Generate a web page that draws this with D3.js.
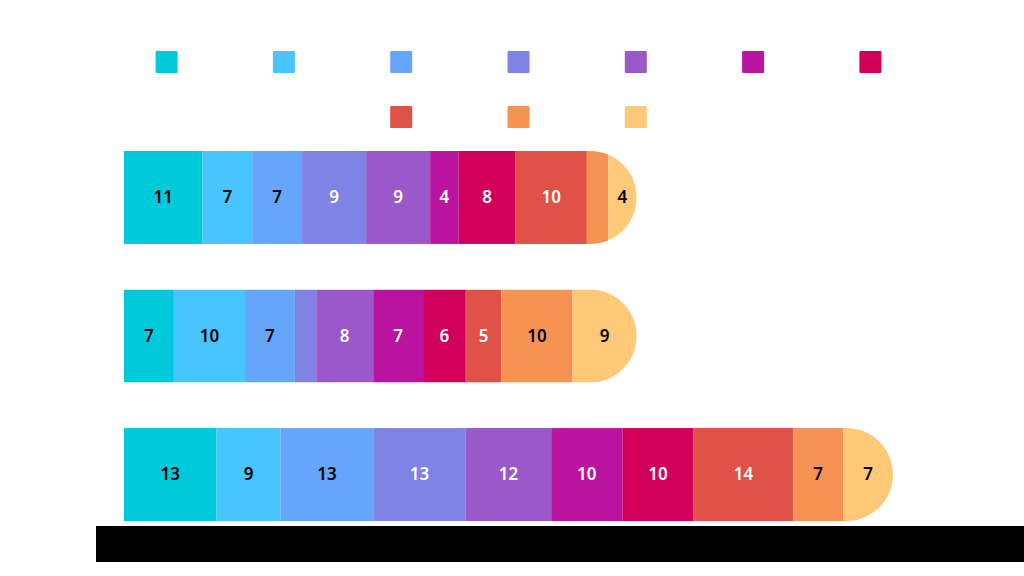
<!DOCTYPE html>
<html><head><meta charset="utf-8">
<script src="https://cdn.jsdelivr.net/npm/d3@7"></script>
<style>body{margin:0;background:#fff}svg{display:block}</style>
</head><body>
<svg id="c" width="1024" height="576"></svg>
<script>
const categories = ["Row 1", "Row 2", "Row 3"];
const seriesNames = ["S1","S2","S3","S4","S5","S6","S7","S8","S9","S10"];
const seriesValues = [
  [11, 7, 13],
  [7, 10, 9],
  [7, 7, 13],
  [9, 3, 13],
  [9, 8, 12],
  [4, 7, 10],
  [8, 6, 10],
  [10, 5, 14],
  [3, 10, 7],
  [4, 9, 7]
];
const colors = ["#00c9dc","#48c4fe","#66a6fa","#8083e6","#9b58c9","#b913a0","#d1005b","#e05148","#f79352","#ffc978"];
const darkText = [true,true,true,false,false,false,false,false,true,true];

const svg = d3.select("#c");
const x = d3.scaleLinear().domain([0, 108]).range([124, 893]);
const y = d3.scaleBand().domain(categories).range([151, 521]).paddingInner(0.329).paddingOuter(0);

// legend
const row1 = seriesNames.slice(0,7), row2 = seriesNames.slice(7);
const step = 117.3, sq = 22;
function legendRow(names, offset, cy){
  const startX = 518.5 - ((names.length-1)*step)/2 - sq/2;
  svg.append("g").selectAll("rect").data(names).join("rect")
    .attr("x",(d,i)=>startX+i*step).attr("y",cy).attr("width",sq).attr("height",sq).attr("rx",1)
    .attr("fill",(d,i)=>colors[offset+i]);
}
legendRow(row1,0,51);
legendRow(row2,7,106);

const defs = svg.append("defs");
categories.forEach((cat,ci)=>{
  const total = d3.sum(seriesValues, s=>s[ci]);
  const x0 = x(0), x1 = x(total), y0 = y(cat), h = y.bandwidth(), r = h/2;
  defs.append("clipPath").attr("id","clip"+ci).append("path")
    .attr("d",`M${x0},${y0}H${x1-r}A${r},${r} 0 0 1 ${x1},${y0+r}A${r},${r} 0 0 1 ${x1-r},${y0+h}H${x0}Z`);
  const g = svg.append("g").attr("clip-path",`url(#clip${ci})`);
  let cum = 0;
  seriesValues.forEach((s,si)=>{
    const v = s[ci];
    const a = cum, b = cum+v; cum = b;
    g.append("rect").attr("x",x(a)).attr("y",y0).attr("width",x(b)-x(a)).attr("height",h).attr("fill",colors[si]);
    if (v > 3) {
      svg.append("text").attr("x",(x(a)+x(b))/2).attr("y",y0+h/2).attr("dy","0.35em")
        .attr("text-anchor","middle").attr("font-family","'Noto Sans', sans-serif").attr("font-size",17).attr("font-weight",600)
        .attr("fill",darkText[si]?"#000":"#fff").text(v);
    }
  });
});

// bottom black band
svg.append("rect").attr("x",96).attr("y",526).attr("width",928).attr("height",36).attr("fill","#000");
</script>
</body></html>
